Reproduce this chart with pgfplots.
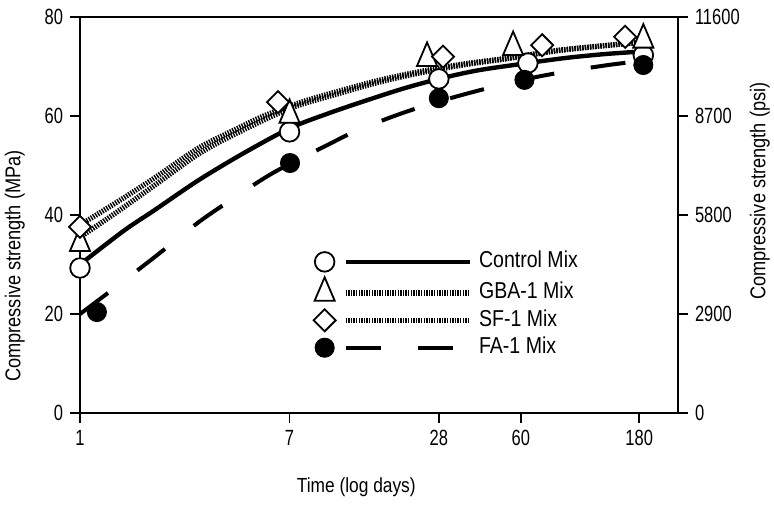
\documentclass[border=0pt]{standalone}
\usepackage{fontspec}
\setmainfont{Liberation Sans}[FakeStretch=0.85]
\newfontfamily\tickfont{Liberation Sans}[FakeStretch=0.75]
\usepackage{pgfplots}
\pgfplotsset{compat=1.18}

\tikzset{
  ctrl/.style={line width=2.2pt, black, solid},
  gba/.style={line width=2.6pt, black, dash pattern=on 0.7pt off 0.6pt},
  sf/.style={line width=2.6pt, black, dash pattern=on 0.7pt off 0.6pt},
  fa/.style={line width=2pt, black, dash pattern=on 17.5pt off 18.5pt},
}
\pgfplotsset{
  ctrlleg/.style={legend image code/.code={\draw[ctrl] (10.5pt,0pt) -- (72.5pt,0pt); \path (76pt,0pt); \draw[##1] plot coordinates {(0pt,0pt)};}},
  gbaleg/.style={legend image code/.code={\draw[gba] (10.5pt,0pt) -- (72.5pt,0pt); \path (76pt,0pt); \draw[##1] plot coordinates {(0pt,0pt)};}},
  sfleg/.style={legend image code/.code={\draw[sf] (10.5pt,0pt) -- (72.5pt,0pt); \path (76pt,0pt); \draw[##1] plot coordinates {(0pt,0pt)};}},
  faleg/.style={legend image code/.code={\draw[fa] (10.5pt,0pt) -- (72.5pt,0pt); \path (76pt,0pt); \draw[##1] plot coordinates {(0pt,0pt)};}},
}

\begin{document}
\begin{tikzpicture}
\useasboundingbox (-40pt,-45.5pt) rectangle (347pt,206.5pt);
\begin{axis}[
  at={(0pt,0pt)}, anchor=south west,
  scale only axis, width=299pt, height=198pt,
  xmode=log, xmin=1, xmax=258,
  ymin=0, ymax=80,
  xtick={1,7,28,60,180}, xticklabels={1,7,28,60,180},
  xminorticks=false, yminorticks=false,
  ytick={0,20,40,60,80},
  xtick pos=bottom, ytick pos=left,
  tick align=outside, major tick length=5pt,
  axis line style={line width=0.8pt},
  tick style={line width=0.8pt, black},
  tick label style={font=\tickfont\fontsize{11}{13}\selectfont},
  /pgf/number format/assume math mode=true,
  xlabel={Time (log days)},
  ylabel={Compressive strength (MPa)},
  xlabel style={at={(axis description cs:0.462,-0.187)}, anchor=center, font=\fontsize{10.2}{12}\selectfont},
  ylabel style={at={(axis description cs:-0.109,0.371)}, anchor=center, rotate=0, font=\fontsize{10.7}{12}\selectfont},
  legend style={draw=none, fill=none, at={(rel axis cs:0.39,0.413)}, anchor=north west,
    inner sep=0pt, row sep=1.7pt, column sep=0pt,
    font=\fontsize{11.5}{13}\selectfont,
    nodes={inner sep=1pt, text height=8pt, text depth=2pt}},
  legend cell align=left,
  clip=false,
]
% fitted curves
\addplot[ctrl, smooth, forget plot] coordinates {
(1,30) (1.5,36.8) (2,41) (3,47) (4.5,52.3) (7,57.5) (10,60.5) (14,63) (20,65.5) (28,67.5) (40,69.2) (60,70.5) (90,71.7) (130,72.5) (180,73)};
\addplot[gba, smooth, forget plot] coordinates {
(1,35.5) (1.4,40.5) (2,46) (3,52.3) (4.2,56.3) (7,61.5) (11,64.5) (16,66.8) (23,68.6) (35,70.3) (55,71.7) (85,73.2) (150,74.5) (180,74.8)};
\addplot[sf, smooth, forget plot] coordinates {
(1,38) (1.4,42.5) (2,47.5) (3,53.5) (4.2,57.2) (5.5,60) (7.8,62.8) (11,65) (16,67.2) (23,68.9) (35,70.5) (55,71.8) (85,73.3) (150,74.5) (180,74.8)};
\addplot[fa, smooth, forget plot] coordinates {
(1,20) (1.3,24.3) (2,31.5) (3,38.5) (4,42.8) (6,48.5) (10,54.2) (13,57) (18.5,60) (25,62.2) (35,64.3) (49,66.2) (68,67.8) (94,69.1) (135,70.3) (175,71)};
% data markers
\addplot[only marks, mark=*, mark size=4.9pt, mark options={solid, fill=white, draw=black, line width=0.9pt}, ctrlleg]
  coordinates {(1,29.3) (7,56.8) (28,67.5) (64,70.7) (187,72.3)};
\addlegendentry{Control Mix}
\addplot[only marks, mark=triangle*, mark size=5.8pt, mark options={solid, fill=white, draw=black, line width=0.9pt, yscale=1.35}, gbaleg]
  coordinates {(1,34.3) (7,60.2) (25.1,71.7) (55.8,73.9) (187,75.4)};
\addlegendentry{GBA-1 Mix}
\addplot[only marks, mark=square*, mark size=3.9pt, mark options={solid, fill=white, draw=black, line width=0.9pt, rotate=45}, sfleg]
  coordinates {(1,37.6) (6.29,62.8) (29.1,72) (73.1,74.3) (158,76)};
\addlegendentry{SF-1 Mix}
\addplot[only marks, mark=*, mark size=4.8pt, mark options={solid, fill=black, draw=black}, faleg]
  coordinates {(1.17,20.4) (7.03,50.5) (28,63.6) (62,67.3) (187,70.3)};
\addlegendentry{FA-1 Mix}
\end{axis}
\begin{axis}[
  at={(0pt,0pt)}, anchor=south west,
  scale only axis, width=299pt, height=198pt,
  xmode=log, xmin=1, xmax=258,
  ymin=0, ymax=11600,
  axis x line=none, axis y line*=right,
  ytick={0,2900,5800,8700,11600}, yticklabels={0,2900,5800,8700,11600},
  scaled y ticks=false,
  yminorticks=false,
  tick align=outside, major tick length=5pt,
  axis line style={line width=0.8pt},
  tick style={line width=0.8pt, black},
  tick label style={font=\tickfont\fontsize{11}{13}\selectfont},
  /pgf/number format/assume math mode=true,
  ylabel={Compressive strength (psi)},
  ylabel style={at={(axis description cs:1.137,0.56)}, anchor=center, rotate=0, font=\fontsize{10.7}{12}\selectfont},
]
\end{axis}
\end{tikzpicture}
\end{document}
